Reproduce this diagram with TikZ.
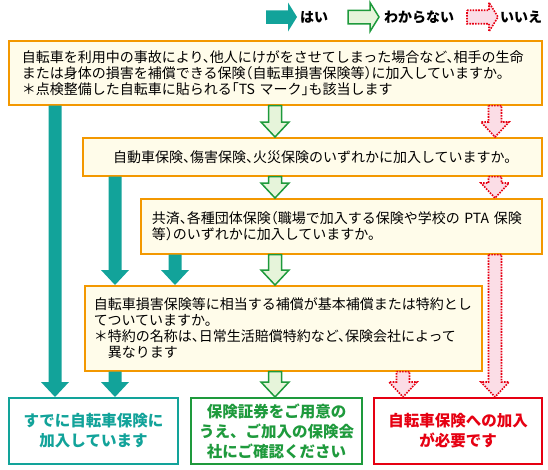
\documentclass[tikz,border=0pt]{standalone}
\usepackage{fontspec}
\setmainfont{Noto Sans CJK JP}
\newfontfamily\qfont{Noto Sans CJK JP}[RawFeature=+halt]
\usetikzlibrary{calc,positioning}

\definecolor{hteal}{HTML}{12A39A}
\definecolor{hgreen}{HTML}{1E9A3C}
\definecolor{hred}{HTML}{E60012}
\definecolor{qorange}{HTML}{F39800}
\definecolor{qfill}{HTML}{FFFCEA}
\definecolor{pgreen}{HTML}{E6F4DA}
\definecolor{pred}{HTML}{FBDDE6}

% block arrow pointing down, from #2 to #3
\newcommand{\arrdown}[3]{%
  \path[#1] let \p1=#2, \p2=#3 in
    ({\x1-6.5pt},\y1) -- ({\x1+6.5pt},\y1) -- ({\x1+6.5pt},{\y2+15pt})
    -- ({\x1+14pt},{\y2+15pt}) -- (\x1,\y2) -- ({\x1-14pt},{\y2+15pt})
    -- ({\x1-6.5pt},{\y2+15pt}) -- cycle;}
% block arrow pointing right (legend)
\newcommand{\arrright}[3]{%
  \path[#1] let \p1=#2, \p2=#3 in
    (\x1,{\y1+6.75pt}) -- ({\x2-9pt},{\y1+6.75pt}) -- ({\x2-9pt},{\y1+14.5pt})
    -- (\x2,\y1) -- ({\x2-9pt},{\y1-14.5pt}) -- ({\x2-9pt},{\y1-6.75pt})
    -- (\x1,{\y1-6.75pt}) -- cycle;}

\begin{document}
\begin{tikzpicture}[x=1pt, y=-1pt,
   qbox/.style={draw=qorange, line width=1.6pt, fill=qfill, anchor=north west,
     align=left, inner ysep=0pt, font=\qfont\fontsize{14}{16}\selectfont},
   abox/.style={draw=#1, text=#1, line width=2pt, fill=white, anchor=north west,
     align=center, minimum height=66, inner sep=0pt,
     font=\bfseries\fontsize{15.5}{20}\selectfont},
   lgd/.style={anchor=west, inner sep=0pt, font=\bfseries\fontsize{14}{16}\selectfont},
   yesarr/.style={fill=hteal},
   unkarr/.style={draw=hgreen, line width=1.5pt, fill=pgreen},
   noarr/.style={draw=hred, line width=1.6pt, dash pattern=on 1.6pt off 1.2pt, fill=pred}]
\useasboundingbox (0,0) rectangle (548,469);

% legend
\node[lgd] (lyes) at (300,17) {はい};
\node[lgd] (lunk) at (384,17) {わからない};
\node[lgd] (lno) at (500,17) {いいえ};
\arrright{yesarr}{(266,17)}{(297,17)}
\arrright{unkarr}{(348,17)}{(379,17)}
\arrright{noarr}{(467,17)}{(498,17)}

% questions
\node[qbox, text width=507, inner xsep=13, minimum height=64] (q1) at (8,40)
  {自転車を利用中の事故により、他人にけがをさせてしまった場合など、相手の生命\\
   または身体の損害を補償できる保険（自転車損害保険等）に加入していますか。\\
   ＊点検整備した自転車に貼られる「TS~マーク」も該当します};
\node[qbox, text width=441, inner xsep=9, minimum height=38, align=center] (q2) at (82,137)
  {自動車保険、傷害保険、火災保険のいずれかに加入していますか。};
\node[qbox, text width=379, inner xsep=11, minimum height=55] (q3) at (140,198)
  {共済、各種団体保険（職場で加入する保険や学校の~PTA~保険\\
   等）のいずれかに加入していますか。};
\node[qbox, text width=379, inner xsep=9, minimum height=85] (q4) at (84,285)
  {自転車損害保険等に相当する補償が基本補償または特約とし\\
   てついていますか。\\
   ＊特約の名称は、日常生活賠償特約など、保険会社によって\\
   \hspace*{1em}異なります};

% answers
\node[abox=hteal, minimum width=169] (a1) at (8,397) {すでに自転車保険に\\加入しています};
\node[abox=hgreen, minimum width=171] (a2) at (190,397) {保険証券をご用意の\\うえ、ご加入の保険会\\社にご確認ください};
\node[abox=hred, minimum width=168] (a3) at (373,397) {自転車保険への加入\\が必要です};

% arrow columns
\coordinate (c1) at (55,0);
\coordinate (c2) at (115,0);
\coordinate (c3) at (175,0);
\coordinate (c4) at (275,0);
\coordinate (c5) at (403,0);
\coordinate (c6) at (495,0);

\arrdown{yesarr}{(q1.south -| c1)}{(a1.north -| c1)}
\arrdown{yesarr}{(q2.south -| c2)}{(q4.north -| c2)}
\arrdown{yesarr}{(q3.south -| c3)}{(q4.north -| c3)}
\arrdown{yesarr}{(q4.south -| c2)}{(a1.north -| c2)}
\foreach \a/\b in {q1/q2, q2/q3, q3/q4, q4/a2}
  \arrdown{unkarr}{(\a.south -| c4)}{(\b.north -| c4)};
\foreach \a/\b in {q1/q2, q2/q3, q3/a3}
  \arrdown{noarr}{(\a.south -| c6)}{(\b.north -| c6)};
\arrdown{noarr}{(q4.south -| c5)}{(a3.north -| c5)}
\end{tikzpicture}
\end{document}
